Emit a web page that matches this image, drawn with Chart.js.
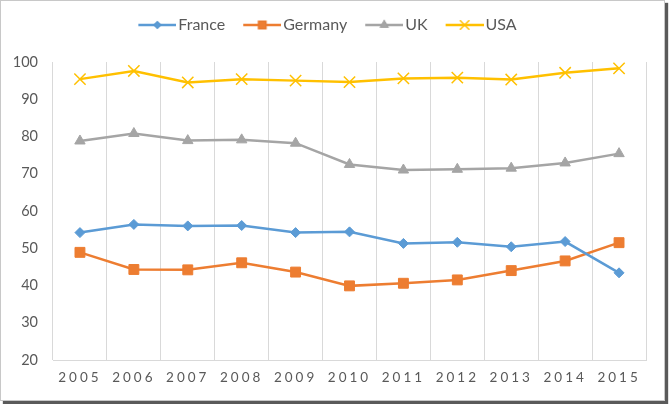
<!DOCTYPE html>
<html>
<head>
<meta charset="utf-8">
<script src="https://cdn.jsdelivr.net/npm/chart.js@4"></script>
<style>
    body { margin: 0; background: #fff; }
    .frame {
        position: absolute; left: 0; top: 0;
        width: 663px; height: 399px;
        border: 1px solid #c8c8c8;
        box-shadow: 3px 3px 1px #5a5a5a;
        background: #fff;
    }
    canvas { display: block; }
</style>
</head>
<body>
<div class="frame"><canvas id="lineChart" width="663" height="399"></canvas></div>
<script>
// --- DATA ---
const years = ['2005', '2006', '2007', '2008', '2009', '2010', '2011', '2012', '2013', '2014', '2015'];
const france = [54.2, 56.4, 56.0, 56.1, 54.2, 54.4, 51.3, 51.6, 50.4, 51.8, 43.4];
const germany = [48.9, 44.3, 44.2, 46.1, 43.6, 39.9, 40.6, 41.5, 44.0, 46.6, 51.5];
const uk = [78.8, 80.8, 78.9, 79.1, 78.2, 72.5, 71.0, 71.2, 71.5, 72.9, 75.4];
const usa = [95.4, 97.6, 94.5, 95.4, 95.0, 94.6, 95.6, 95.8, 95.3, 97.1, 98.3];
const yTicks = [20, 30, 40, 50, 60, 70, 80, 90, 100];

const FONT = 'Lato';
const TEXT = '#595959';
const GRID = '#d9d9d9';

// small canvas with a line + marker, used as the legend symbol
// (transparent strip on the left so the gaps come out like Excel's)
function legendIcon(color, style, radius) {
    const c = document.createElement('canvas');
    const m = 14;
    c.width = 38 + m; c.height = 16;
    const g = c.getContext('2d');
    g.strokeStyle = color;
    g.lineWidth = 2.5;
    g.beginPath(); g.moveTo(m, 8); g.lineTo(m + 38, 8); g.stroke();
    g.lineWidth = 1.2;
    Chart.helpers.drawPoint(g, { pointStyle: style, radius: radius, rotation: 0, borderWidth: 1.2 }, m + 19, 8);
    g.fillStyle = color;
    g.fill();
    if (style === 'crossRot') g.stroke();
    return c;
}

const series = [
    { label: 'France', data: france, color: '#5b9bd5', style: 'rectRot', r: 5 },
    { label: 'Germany', data: germany, color: '#ed7d31', style: 'rect', r: 7 },
    { label: 'UK', data: uk, color: '#a5a5a5', style: 'triangle', r: 6 },
    { label: 'USA', data: usa, color: '#ffc000', style: 'crossRot', r: 8 }
];

// x labels are drawn with extra letter spacing, like the original
const spacedLabels = {
    id: 'spacedLabels',
    beforeDraw(chart) {
        const sc = chart.scales.x;
        if (sc._spaced) return;
        const orig = sc.drawLabels.bind(sc);
        sc.drawLabels = function (area) {
            chart.ctx.save();
            chart.ctx.letterSpacing = '3px';
            orig(area);
            chart.ctx.restore();
        };
        sc._spaced = true;
    }
};

// fixed legend height so the plot area starts where it should
const legendHeight = {
    id: 'legendHeight',
    beforeLayout(chart) {
        const lg = chart.legend;
        if (!lg || lg._fixed) return;
        const fit = lg.fit.bind(lg);
        lg.fit = function () { fit(); this.height = 55; };
        lg._fixed = true;
    }
};

const ctx = document.getElementById('lineChart').getContext('2d');
new Chart(ctx, {
    type: 'line',
    data: {
        labels: years,
        datasets: series.map(s => ({
            label: s.label,
            data: s.data,
            borderColor: s.color,
            backgroundColor: s.color,
            borderWidth: 2.5,
            pointStyle: s.style,
            pointRadius: s.r,
            pointBorderWidth: s.style === 'crossRot' ? 1.5 : 1,
            tension: 0
        }))
    },
    options: {
        responsive: false,
        animation: false,
        layout: { padding: { top: 6, right: 18, left: 0, bottom: 0 } },
        plugins: {
            tooltip: { enabled: false },
            legend: {
                position: 'top',
                labels: {
                    color: TEXT,
                    font: { family: FONT, size: 16 },
                    usePointStyle: true,
                    pointStyleWidth: 40,
                    padding: 10,
                    generateLabels: chart => series.map((s, i) => ({
                        text: s.label,
                        pointStyle: legendIcon(s.color, s.style, s.r - 1.5),
                        fontColor: TEXT,
                        datasetIndex: i,
                        hidden: false,
                        lineWidth: 0
                    }))
                }
            }
        },
        scales: {
            x: {
                offset: true,
                grid: { display: true, offset: true, color: GRID, drawTicks: false },
                border: { display: true, color: GRID },
                ticks: { color: TEXT, font: { family: FONT, size: 13.5 }, padding: 10, maxRotation: 0 },
                afterFit: scale => { scale.height = 40; }
            },
            y: {
                min: 20,
                max: 100,
                afterBuildTicks: scale => { scale.ticks = yTicks.map(v => ({ value: v })); },
                grid: { display: false, drawTicks: false },
                border: { display: false },
                ticks: { color: TEXT, font: { family: FONT, size: 14.5 }, padding: 15 },
                afterFit: scale => { scale.width = 52; }
            }
        }
    },
    plugins: [spacedLabels, legendHeight]
});
</script>
</body>
</html>
